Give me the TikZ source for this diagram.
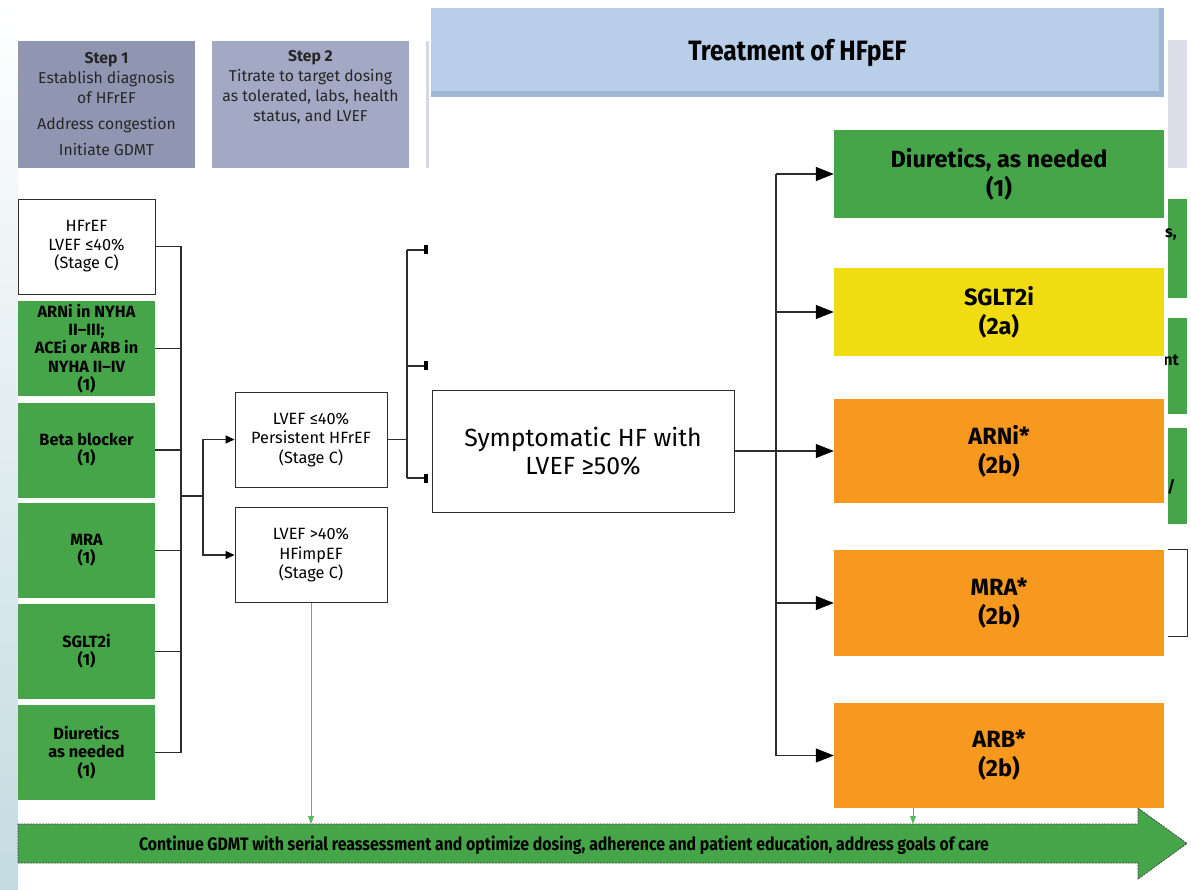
\documentclass[tikz,border=0pt]{standalone}
\usepackage{fontspec}
\setmainfont{Fira Sans}
\newfontfamily\narrowfont[FakeStretch=0.88]{Fira Sans}
\usepackage{xcolor}
\usetikzlibrary{arrows.meta, positioning}

\definecolor{hfgreen}{RGB}{70,164,73}
\definecolor{hfyellow}{RGB}{241,220,17}
\definecolor{hforange}{RGB}{247,153,30}
\definecolor{steponefill}{RGB}{144,150,178}
\definecolor{steptwofill}{RGB}{163,168,196}
\definecolor{titlefill}{RGB}{184,206,233}
\definecolor{titleshade}{RGB}{160,183,212}
\definecolor{greybar}{RGB}{221,222,234}
\definecolor{linegray}{RGB}{45,45,45}
\definecolor{paleline}{RGB}{90,185,90}

\begin{document}
\begin{tikzpicture}[x=1pt, y=-1pt,
    conn/.style={draw=linegray, line width=1.1pt},
    arr/.style={conn, -{Triangle[length=9pt,width=8pt,color=black]}},
    bigarr/.style={conn, -{Triangle[length=18pt,width=14pt,color=black]}},
    stub/.style={conn, -{Rectangle[length=4pt,width=9pt,color=black]}},
    greenarr/.style={draw=paleline, line width=0.8pt, -{Triangle[length=8pt,width=6pt]}},
    stepbox/.style={rectangle, inner sep=0pt, minimum width=177, minimum height=127},
    steptext/.style={align=center, font=\fontsize{15.7}{20}\selectfont, text=black!85},
    whitebox/.style={rectangle, draw=linegray, line width=0.9pt, fill=white, align=center,
        inner sep=0pt, font=\fontsize{16.3}{19.5}\selectfont},
    drugbox/.style={rectangle, fill=hfgreen, align=center, inner sep=0pt,
        minimum width=137, minimum height=95, font=\bfseries\fontsize{16.3}{18.2}\selectfont},
    classbox/.style={rectangle, align=center, inner sep=0pt, minimum width=330,
        font=\bfseries\fontsize{23.5}{29}\selectfont},
    frag/.style={inner sep=0pt, font=\bfseries\fontsize{16}{18}\selectfont}
]
\useasboundingbox (0,0) rectangle (1191,890);
\fill[white] (0,0) rectangle (1191,890);
\shade[top color=white, bottom color={rgb,255:red,196;green,219;blue,226}] (0,0) rectangle (18,890);

% Steps
\node[stepbox, fill=steponefill, steptext] (step1) at (106.5,104.5)
    {\textbf{Step 1}\\ Establish diagnosis\\ of HFrEF\\[6pt] Address congestion\\[6pt] Initiate GDMT};
\node[stepbox, fill=steptwofill, minimum width=197] (step2) at (310.5,104.5) {};
\node[steptext, below=6pt of step2.north] (step2txt)
    {\textbf{Step 2}\\ Titrate to target dosing\\ as tolerated, labs, health\\ status, and LVEF};
\fill[greybar!90!steptwofill] (426,41) rectangle (428.5,168);

% Title
\node[rectangle, fill=titlefill, minimum width=733, minimum height=89, inner sep=0pt,
    font=\narrowfont\bfseries\fontsize{28}{32}\selectfont] (title) at (797.5,52.5) {Treatment of HFpEF};
\fill[titleshade] (431,91) rectangle (1164,97);
\fill[titleshade] (1159,8) rectangle (1164,97);
\fill[greybar] (1168,40) rectangle (1187,168);

% Left column
\node[whitebox, minimum width=137, minimum height=95, font=\fontsize{16.3}{18.5}\selectfont] (hfref)
    at (86.5,246.5) {HFrEF\\ LVEF ≤40\%\\ (Stage C)};
\node[drugbox] (arni) at (86.5,348.5) {ARNi in NYHA\\ II--III;\\ ACEi or ARB in\\ NYHA II--IV\\ (1)};
\node[drugbox] (beta) at (86.5,450) {Beta blocker\\ (1)};
\node[drugbox] (mra) at (86.5,550.5) {MRA\\ (1)};
\node[drugbox] (sglt) at (86.5,651.5) {SGLT2i\\ (1)};
\node[drugbox] (diur) at (86.5,752.5) {Diuretics\\ as needed\\ (1)};

\coordinate (busA) at (181,0);
\draw[conn] (hfref.east) -- (hfref.east -| busA) -- (diur.east -| busA) -- (diur.east);
\foreach \n in {arni, beta, mra, sglt}
    \draw[conn] (\n.east) -- (\n.east -| busA);

% Step 2 branches
\node[whitebox, minimum width=152, minimum height=95] (persist) at (311,439.5)
    {LVEF ≤40\%\\ Persistent HFrEF\\ (Stage C)};
\node[whitebox, minimum width=152, minimum height=95] (impef) at (311,555)
    {LVEF >40\%\\ HFimpEF\\ (Stage C)};

\coordinate (busB) at (203,496);
\draw[conn] (busA |- busB) -- (busB);
\draw[arr] (busB) |- (persist.west);
\draw[arr] (busB) |- (impef.west);

\coordinate (busC) at (407,0);
\coordinate (stubA) at (428,250);
\coordinate (stubB) at (428,366);
\coordinate (stubC) at (428,478);
\draw[conn] (persist.east) -- (persist.east -| busC);
\draw[conn] (busC |- stubA) -- (busC |- stubC);
\foreach \s in {stubA, stubB, stubC}
    \draw[stub] (busC |- \s) -- (\s);

% HFpEF
\node[whitebox, minimum width=302, minimum height=122, font=\fontsize{24.8}{28.5}\selectfont] (symp)
    at (583,451) {Symptomatic HF with\\ LVEF ≥50\%};

\node[classbox, fill=hfgreen, minimum height=88] (rdiur) at (999,174) {Diuretics, as needed\\ (1)};
\node[classbox, fill=hfyellow, minimum height=88] (rsglt) at (999,312) {SGLT2i\\ (2a)};
\node[classbox, fill=hforange, minimum height=104] (rarni) at (999,451) {ARNi*\\ (2b)};
\node[classbox, fill=hforange, minimum height=106] (rmra) at (999,603) {MRA*\\ (2b)};
\node[classbox, fill=hforange, minimum height=105] (rarb) at (999,755.5) {ARB*\\ (2b)};

\coordinate (busD) at (776,0);
\draw[bigarr] (symp.east) -- (rarni.west);
\draw[conn] (busD |- rdiur.west) -- (busD |- rarb.west);
\foreach \n in {rdiur, rsglt, rmra, rarb}
    \draw[bigarr] (busD |- \n.west) -- (\n.west);

% Right edge
\fill[hfgreen] (1168,199) rectangle (1187,298);
\fill[hfgreen] (1168,318) rectangle (1187,414);
\fill[hfgreen] (1168,428) rectangle (1187,524);
\begin{scope}
    \clip (1165,200) rectangle (1191,530);
    \node[frag, anchor=base west] (fragA) at (1165,238) {s,};
    \node[frag, anchor=base east] (fragB) at (1179,366) {nt};
    \node[frag, anchor=base west] (fragC) at (1167,492) {/};
\end{scope}
\draw[draw=linegray, line width=0.9pt] (1168,549) -- (1187,549) -- (1187,636) -- (1168,636);

% Continue GDMT
\draw[draw=black!70, dash pattern=on 2pt off 1pt, line width=0.8pt, fill=hfgreen]
    (18,824) -- (1138,824) -- (1138,808) -- (1187,843.5) -- (1138,879) -- (1138,863) -- (18,863) -- cycle;
\node[font=\narrowfont\bfseries\fontsize{18}{20}\selectfont] (gdmt) at (564,845)
    {Continue GDMT with serial reassessment and optimize dosing, adherence and patient education, address goals of care};
\coordinate (bandtop) at (0,824);
\draw[greenarr] (impef.south) -- (impef.south |- bandtop);
\draw[greenarr] ([xshift=-86pt]rarb.south) -- ([xshift=-86pt]rarb.south |- bandtop);
\end{tikzpicture}
\end{document}
